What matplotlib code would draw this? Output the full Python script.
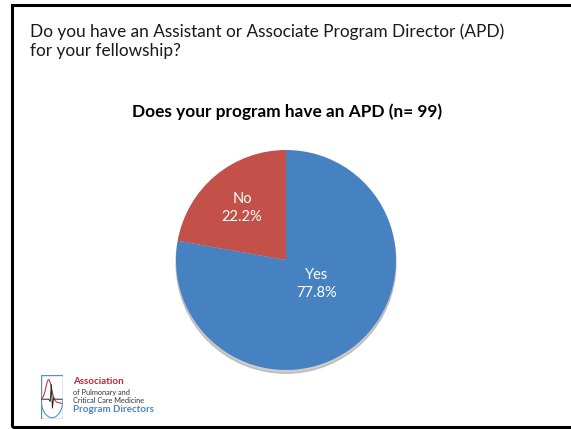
import matplotlib
matplotlib.use("Agg")
import matplotlib.pyplot as plt
from matplotlib.patches import Rectangle, Circle
import numpy as np

labels = ["Yes", "No"]
values = [77.8, 22.2]
colors = ["#4682C2", "#C4504A"]

slide_title = "Do you have an Assistant or Associate Program Director (APD)\nfor your fellowship?"
chart_title = "Does your program have an APD (n= 99)"

W, H = 571, 429
fig = plt.figure(figsize=(W / 100, H / 100), dpi=100)
fig.patch.set_facecolor("white")

def fx(x):
    return x / W

def fy(y):
    return 1 - y / H

# slide border
fig.add_artist(Rectangle((fx(12), fy(427)), fx(600) - fx(12), fy(5) - fy(427),
                         transform=fig.transFigure, fill=False, edgecolor="black", lw=2.2))

fig.text(fx(30), fy(23), slide_title, ha="left", va="top", fontsize=12.4,
         family="Lato", color="#1a1a1a", linespacing=1.25)
fig.text(fx(287), fy(112), chart_title, ha="center", va="center", fontsize=12.4,
         family="Lato", fontweight="bold", color="black")

# pie
cx, cy, r = 286, 260, 110
ax = fig.add_axes([fx(cx - r), fy(cy + r), 2 * r / W, 2 * r / H])
ax.set_aspect("equal")
ax.axis("off")
ax.add_patch(Circle((0.0, -0.03), 1.0, color="#9a9a9a", alpha=0.5, zorder=0, clip_on=False))
wedges, _ = ax.pie(values, colors=colors, startangle=90, counterclock=False,
                   radius=1.0, wedgeprops=dict(linewidth=0, clip_on=False))
ax.set_xlim(-1, 1)
ax.set_ylim(-1, 1)

pos = {"Yes": (317, 284), "No": (242, 208)}
for lab, v in zip(labels, values):
    px, py = pos[lab]
    fig.text(fx(px), fy(py), f"{lab}\n{v:.1f}%", ha="center", va="center",
             fontsize=10.5, family="Lato", color="white", linespacing=1.45)

# logo
lx0, ly0, lx1, ly1 = 41, 375, 63, 419
lax = fig.add_axes([fx(lx0), fy(ly1), (lx1 - lx0) / W, (ly1 - ly0) / H])
lax.set_xlim(0, 1)
lax.set_ylim(0, 1)
lax.axis("off")
lax.add_patch(Rectangle((0, 0), 1, 1, fill=False, edgecolor="#5a8fc4", lw=1.0))
t = np.linspace(0, 1, 100)
lax.plot(t, 0.45 + 0.48 * np.exp(-((t - 0.35) / 0.18) ** 2) - 0.1 * t, color="#c0394b", lw=0.8)
arc_t = np.linspace(np.pi, 2 * np.pi, 60)
lax.plot(0.5 + 0.5 * np.cos(arc_t), 0.45 + 0.42 * np.sin(arc_t), color="#5a8fc4", lw=0.8)
ex = [0.05, 0.35, 0.42, 0.47, 0.52, 0.57, 0.62, 0.95]
ey = [0.45, 0.45, 0.40, 0.78, 0.25, 0.48, 0.45, 0.45]
lax.plot(ex, ey, color="#222222", lw=0.7)

fig.text(fx(73), fy(382), "Association", ha="left", va="center", fontsize=7.0,
         family="Lato", fontweight="bold", color="#b5273a")
fig.text(fx(73), fy(392), "of Pulmonary and", ha="left", va="center", fontsize=5.3,
         family="Lato", color="#333333")
fig.text(fx(73), fy(400.5), "Critical Care Medicine", ha="left", va="center", fontsize=5.3,
         family="Lato", color="#333333")
fig.text(fx(73), fy(410), "Program Directors", ha="left", va="center", fontsize=7.0,
         family="Lato", fontweight="bold", color="#4a86c0")

fig.savefig("out.png", dpi=100, facecolor="white")
